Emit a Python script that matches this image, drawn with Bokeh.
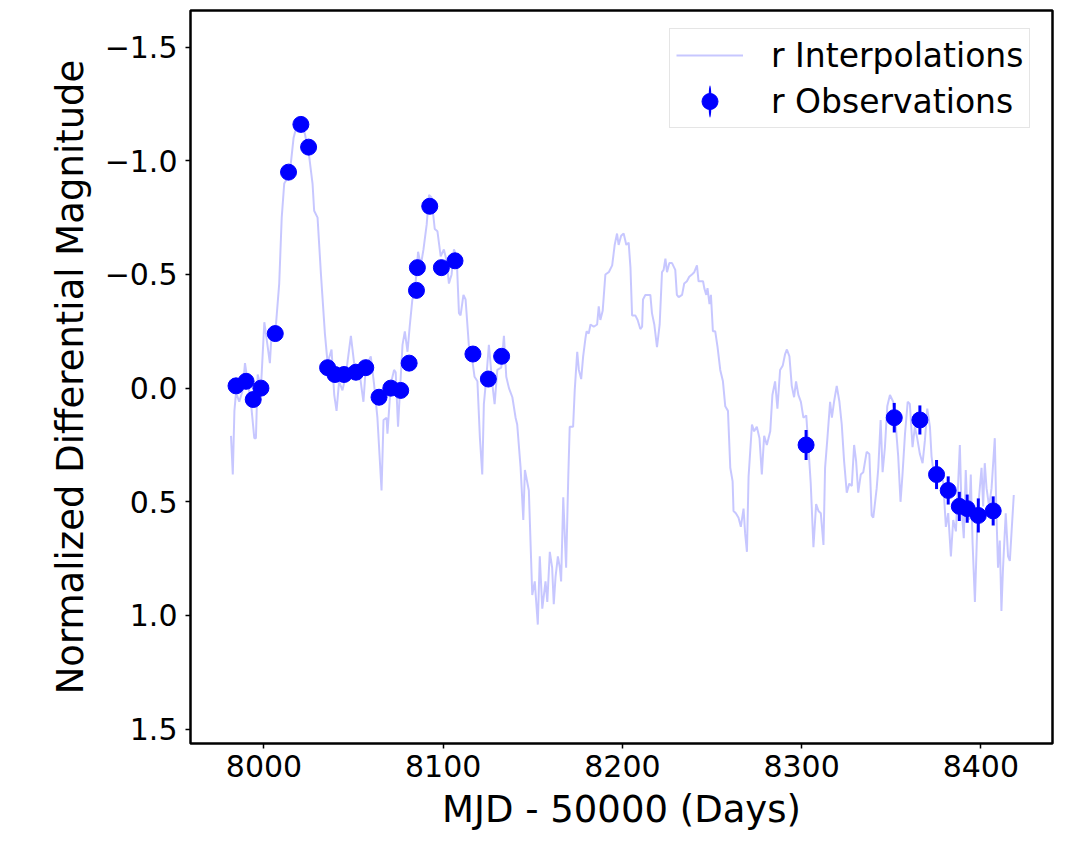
from bokeh.plotting import figure
from bokeh.models import (Range1d, FixedTicker, CustomJSTickFormatter, Legend,
                          LegendItem)
from bokeh.embed import file_html
from bokeh.resources import INLINE

# ---------------- data ----------------
interp_day = [7981.6, 7982.6, 7983.5, 7984.4, 7986.2, 7988.1, 7989.4, 7990.9, 7992.8, 7994.6,
              7995.5, 7996.5, 7998.3, 8000.2, 8002.1, 8003.3, 8004.3, 8006.7, 8008.5, 8009.9,
              8011.3, 8012.8, 8015.0, 8016.5, 8017.8, 8020.6, 8022.8, 8025.2, 8027.1, 8028.0,
              8029.9, 8031.8, 8034.0, 8035.5, 8037.7, 8039.2, 8040.5, 8041.9, 8043.8, 8045.7,
              8048.5, 8050.3, 8053.1, 8055.5, 8056.8, 8059.6, 8061.4, 8063.3, 8065.6, 8066.7,
              8068.4, 8068.9, 8070.8, 8072.6, 8073.5, 8074.8, 8075.9, 8077.3, 8078.6, 8080.1,
              8081.3, 8082.8, 8084.1, 8085.2, 8086.0, 8087.5, 8089.0, 8090.8, 8092.1, 8093.4,
              8095.3, 8096.8, 8098.6, 8100.4, 8101.9, 8103.2, 8104.7, 8106.0, 8107.5, 8108.8,
              8109.7, 8111.3, 8112.5, 8114.4, 8116.3, 8117.5, 8119.1, 8120.5, 8121.8, 8122.7,
              8124.1, 8125.5, 8127.4, 8128.7, 8130.2, 8132.4, 8133.9, 8135.2, 8136.7, 8138.6,
              8140.4, 8141.3, 8143.2, 8144.7, 8145.6, 8147.8, 8149.7, 8151.1, 8152.8, 8153.9,
              8155.3, 8157.1, 8158.1, 8159.5, 8160.8, 8161.7, 8162.7, 8164.0, 8165.1, 8165.8,
              8167.0, 8167.9, 8168.6, 8169.8, 8170.6, 8172.5, 8173.4, 8174.8, 8175.7, 8177.0,
              8178.1, 8179.4, 8180.0, 8181.2, 8182.2, 8184.0, 8185.9, 8186.8, 8187.7, 8189.0,
              8190.5, 8192.4, 8194.3, 8195.7, 8197.0, 8197.9, 8199.3, 8200.7, 8202.2, 8203.5,
              8204.5, 8205.4, 8207.2, 8208.5, 8210.0, 8211.0, 8211.5, 8212.8, 8214.7, 8215.6,
              8216.5, 8217.8, 8219.3, 8220.8, 8222.1, 8223.0, 8224.0, 8224.9, 8226.2, 8227.7,
              8229.5, 8230.4, 8231.4, 8233.3, 8234.5, 8236.0, 8237.3, 8238.8, 8240.1, 8241.6,
              8242.5, 8244.0, 8245.0, 8245.7, 8246.8, 8247.5, 8248.6, 8249.4, 8250.5, 8251.8,
              8253.1, 8254.6, 8256.1, 8257.4, 8258.9, 8260.2, 8261.5, 8262.0, 8263.3, 8264.8,
              8266.1, 8267.6, 8268.5, 8269.5, 8270.4, 8272.3, 8273.5, 8275.0, 8276.5, 8277.8,
              8279.1, 8280.6, 8282.5, 8283.7, 8285.2, 8286.5, 8288.0, 8289.5, 8290.8, 8291.8,
              8293.2, 8294.5, 8295.8, 8296.9, 8298.2, 8299.6, 8301.0, 8302.6, 8303.8, 8305.1,
              8306.6, 8308.1, 8309.4, 8310.7, 8312.2, 8313.1, 8314.4, 8315.9, 8316.9, 8318.1,
              8319.6, 8321.1, 8322.4, 8323.7, 8325.2, 8326.6, 8328.0, 8329.3, 8330.4, 8331.6,
              8333.0, 8334.4, 8336.3, 8337.8, 8339.1, 8340.0, 8341.9, 8342.8, 8344.1, 8345.2,
              8346.5, 8347.8, 8349.3, 8351.1, 8352.6, 8353.9, 8355.2, 8356.3, 8357.7, 8359.2,
              8360.4, 8361.9, 8363.2, 8364.5, 8366.0, 8367.5, 8368.8, 8370.1, 8371.6, 8372.5,
              8373.8, 8375.3, 8377.2, 8379.0, 8380.5, 8381.8, 8383.3, 8384.6, 8386.1, 8387.4,
              8388.3, 8389.2, 8390.5, 8391.6, 8392.4, 8393.5, 8394.4, 8395.4, 8396.7, 8397.9,
              8399.0, 8400.4, 8401.3, 8402.2, 8403.2, 8404.6, 8406.0, 8407.8, 8408.7, 8409.6,
              8410.6, 8411.5, 8412.4, 8413.9, 8415.2, 8416.2, 8417.1, 8418.4]
interp_mag = [0.21, 0.38, 0.10, 0.02, 0.06, 0.01, -0.11, -0.03, 0.07, 0.22,
              0.22, -0.06, 0.00, -0.29, -0.18, -0.11, -0.25, -0.28, -0.46, -0.75,
              -0.90, -0.92, -0.99, -1.10, -1.14, -1.16, -1.12, -1.02, -0.90, -0.78,
              -0.75, -0.50, -0.24, -0.11, -0.17, 0.03, 0.10, -0.03, 0.01, -0.06,
              -0.23, -0.11, -0.08, 0.06, -0.09, -0.14, -0.02, 0.13, 0.45, 0.14,
              0.13, 0.20, -0.02, -0.08, -0.07, 0.17, 0.01, -0.19, -0.25, -0.16,
              -0.27, -0.39, -0.42, -0.52, -0.60, -0.54, -0.61, -0.72, -0.85, -0.84,
              -0.70, -0.69, -0.58, -0.61, -0.56, -0.46, -0.50, -0.61, -0.58, -0.33,
              -0.32, -0.41, -0.39, -0.18, -0.12, -0.05, -0.03, 0.22, 0.38, 0.07,
              -0.05, -0.19, -0.02, 0.07, -0.08, -0.09, -0.23, -0.05, 0.00, 0.04,
              0.13, 0.16, 0.35, 0.58, 0.36, 0.45, 0.91, 0.85, 1.04, 0.74,
              0.97, 0.85, 0.94, 0.72, 0.79, 0.95, 0.83, 0.74, 0.79, 0.85,
              0.48, 0.66, 0.79, 0.39, 0.17, 0.17, 0.01, -0.16, -0.08, -0.04,
              -0.14, -0.22, -0.25, -0.24, -0.28, -0.27, -0.28, -0.36, -0.30, -0.34,
              -0.50, -0.51, -0.54, -0.63, -0.68, -0.63, -0.67, -0.68, -0.63, -0.64,
              -0.53, -0.32, -0.32, -0.30, -0.26, -0.27, -0.39, -0.41, -0.41, -0.41,
              -0.33, -0.28, -0.18, -0.28, -0.51, -0.52, -0.57, -0.51, -0.55, -0.55,
              -0.52, -0.41, -0.40, -0.41, -0.46, -0.47, -0.49, -0.50, -0.51, -0.54,
              -0.47, -0.47, -0.47, -0.44, -0.41, -0.44, -0.37, -0.41, -0.25, -0.25,
              -0.18, -0.08, -0.03, 0.08, 0.10, 0.35, 0.41, 0.54, 0.55, 0.57,
              0.61, 0.53, 0.64, 0.72, 0.39, 0.16, 0.19, 0.17, 0.22, 0.38,
              0.21, 0.25, 0.19, 0.03, -0.03, 0.09, -0.08, -0.10, -0.15, -0.17,
              -0.14, -0.01, 0.04, -0.03, 0.03, 0.06, 0.13, 0.12, 0.26, 0.42,
              0.70, 0.51, 0.54, 0.55, 0.69, 0.35, 0.22, 0.06, 0.13, 0.06,
              -0.01, 0.06, 0.16, 0.32, 0.46, 0.42, 0.43, 0.25, 0.32, 0.46,
              0.38, 0.37, 0.28, 0.29, 0.56, 0.57, 0.44, 0.35, 0.14, 0.37,
              0.26, 0.08, 0.03, 0.06, 0.17, 0.30, 0.50, 0.38, 0.20, 0.06,
              0.07, 0.26, 0.17, 0.22, 0.29, 0.33, 0.23, 0.09, 0.17, 0.30,
              0.38, 0.36, 0.39, 0.41, 0.61, 0.55, 0.74, 0.58, 0.63, 0.41,
              0.25, 0.52, 0.66, 0.36, 0.52, 0.58, 0.38, 0.68, 0.94, 0.64,
              0.48, 0.35, 0.52, 0.33, 0.44, 0.52, 0.44, 0.22, 0.55, 0.79,
              0.67, 0.98, 0.79, 0.55, 0.74, 0.76, 0.64, 0.47]

obs_day = [7984.4, 7990.0, 7994.0, 7998.3, 8006.3, 8013.7, 8020.6, 8024.9, 8035.5, 8039.6,
           8044.7, 8051.3, 8056.8, 8064.2, 8070.8, 8076.3, 8081.0, 8085.1, 8085.6, 8092.5,
           8099.0, 8106.6, 8116.6, 8125.2, 8132.6, 8302.5, 8351.7, 8366.0, 8375.3, 8381.8,
           8388.0, 8392.4, 8398.6, 8406.9]
obs_mag = [-0.01, -0.03, 0.05, 0.00, -0.24, -0.95, -1.16, -1.06, -0.09, -0.06,
           -0.06, -0.07, -0.09, 0.04, 0.00, 0.01, -0.11, -0.43, -0.53, -0.80,
           -0.53, -0.56, -0.15, -0.04, -0.14, 0.25, 0.13, 0.14, 0.38, 0.45,
           0.52, 0.53, 0.56, 0.54]
obs_err = [0.01] * 25 + [0.066, 0.065, 0.064, 0.064, 0.062, 0.064, 0.062, 0.075, 0.064]

x_ticks = [8000, 8100, 8200, 8300, 8400]
y_ticks = [-1.5, -1.0, -0.5, 0.0, 0.5, 1.0, 1.5]
x_limits = (7959, 8440)
y_limits = (1.563, -1.661)   # inverted magnitude axis (bottom, top)

# ---------------- figure ----------------
FONT = "DejaVu Sans"
p = figure(width=1071, height=841, output_backend="svg", toolbar_location=None,
           x_range=Range1d(*x_limits), y_range=Range1d(*y_limits),
           min_border_left=190, min_border_right=19, min_border_top=10, min_border_bottom=98)
p.background_fill_color = "white"
p.border_fill_color = "white"
p.grid.visible = False
p.outline_line_color = "black"
p.outline_line_width = 2.5
p.outline_line_alpha = 1.0

line_r = p.line(interp_day, interp_mag, line_color="blue", line_alpha=0.22, line_width=2)

lo = [m - e for m, e in zip(obs_mag, obs_err)]
hi = [m + e for m, e in zip(obs_mag, obs_err)]
p.segment(x0=obs_day, y0=lo, x1=obs_day, y1=hi, line_color="blue", line_width=3)
dot_r = p.scatter(obs_day, obs_mag, size=16, marker="circle", fill_color="blue", line_color="blue")
# legend-only proxy: a thin tall ellipse renders as the vertical errorbar symbol in the legend
# (NaN position: never drawn inside the plot)
nan = float("nan")
bar_r = p.ellipse(x=[nan], y=[nan], width=3, height=32, width_units="screen",
                  height_units="screen", fill_color="blue", line_color=None)

for ax in (p.xaxis[0], p.yaxis[0]):
    ax.axis_line_color = None
    ax.major_tick_line_color = "black"
    ax.major_tick_line_width = 1.5
    ax.major_tick_out = 5
    ax.major_tick_in = 0
    ax.minor_tick_line_color = None
    ax.major_label_text_font = FONT
    ax.major_label_text_font_size = "30px"
    ax.major_label_text_color = "black"
    ax.axis_label_text_font = FONT
    ax.axis_label_text_font_size = "37px"
    ax.axis_label_text_font_style = "normal"
    ax.axis_label_text_color = "black"

p.xaxis.ticker = FixedTicker(ticks=x_ticks)
p.yaxis.ticker = FixedTicker(ticks=y_ticks)
p.xaxis.formatter = CustomJSTickFormatter(code="return tick.toFixed(0);")
p.yaxis.formatter = CustomJSTickFormatter(code="return tick.toFixed(1).replace('-', '\u2212');")
p.xaxis.axis_label = "MJD - 50000 (Days)"
p.yaxis.axis_label = "Normalized Differential Magnitude"
p.xaxis.major_label_standoff = 6
p.yaxis.major_label_standoff = 8
p.xaxis.axis_label_standoff = 8
p.yaxis.axis_label_standoff = 10

legend = Legend(items=[
    LegendItem(label="r Interpolations", renderers=[line_r]),
    LegendItem(label="r Observations", renderers=[bar_r, dot_r]),
])
legend.location = (479, 615)
legend.label_text_font = FONT
legend.label_text_font_size = "33px"
legend.label_text_color = "black"
legend.glyph_width = 67
legend.glyph_height = 40
legend.label_height = 40
legend.label_standoff = 28
legend.spacing = 6
legend.padding = 6
legend.margin = 0
legend.border_line_color = "#cccccc"
legend.border_line_width = 1.5
legend.background_fill_color = "white"
legend.background_fill_alpha = 0.8
p.add_layout(legend)

open("out.html", "w").write(file_html(p, INLINE))
